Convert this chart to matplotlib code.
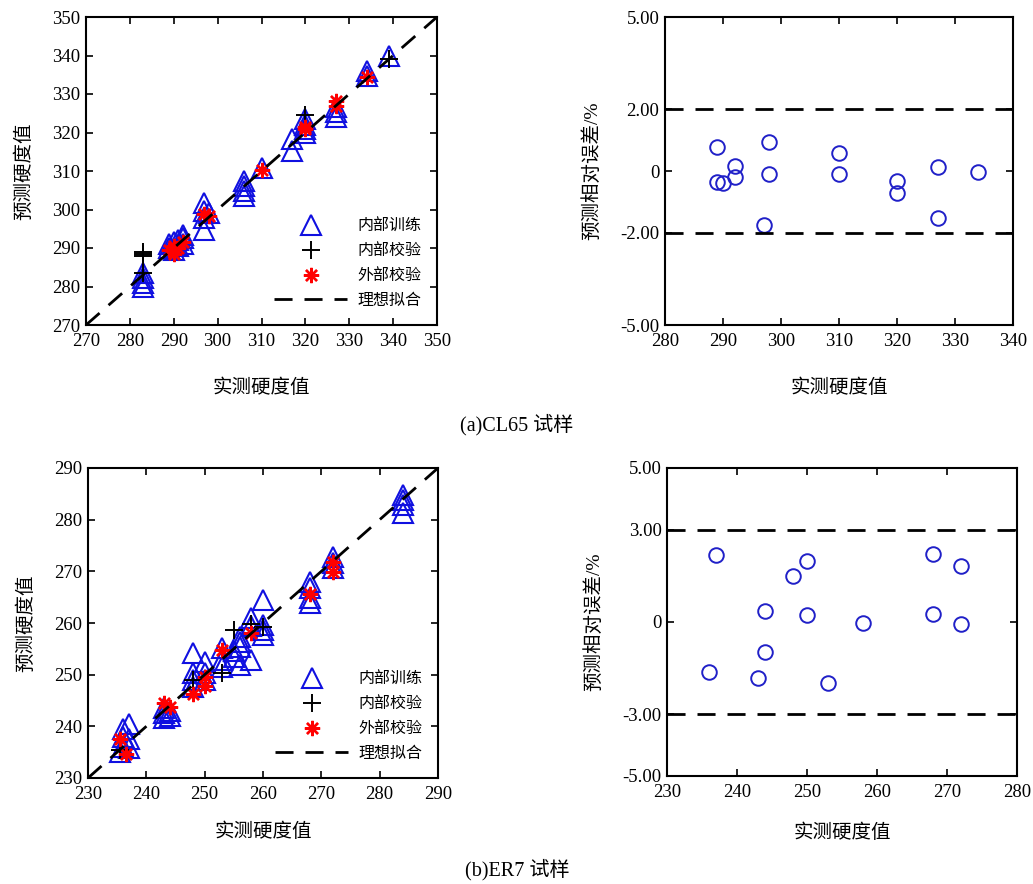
import matplotlib
matplotlib.use('Agg')
import matplotlib.pyplot as plt
import numpy as np

plt.rcParams['font.family'] = ['Liberation Serif', 'Noto Sans CJK SC']
plt.rcParams['axes.unicode_minus'] = False

# ---- (a) CL65 ----
tri_a_x = [283, 283, 283, 283, 289, 289, 290, 290, 291, 291, 292, 292, 292,
           297, 297, 297, 297, 298, 306, 306, 306, 306, 310, 317, 317,
           320, 320, 320, 320, 327, 327, 327, 334, 334, 339]
tri_a_y = [283.5, 282.2, 280.9, 280.0, 290.0, 291.0, 289.5, 291.5, 290.5, 292.0, 291.0, 292.5, 293.5,
           301.7, 299.5, 297.8, 294.8, 299.0, 307.3, 306.0, 304.7, 303.4, 310.8, 318.2, 315.2,
           323.5, 322.0, 321.0, 320.0, 326.5, 325.2, 323.9, 336.0, 334.7, 339.9]
plus_a_x = [283, 283, 283, 283, 320, 339]
plus_a_y = [288.0, 288.5, 289.0, 283.5, 324.5, 339.2]
star_a_x = [289, 290, 290, 291, 292, 297, 298, 310, 320, 320, 327, 327, 334]
star_a_y = [289.5, 290.5, 288.5, 290.0, 291.5, 298.8, 298.3, 310.2, 320.8, 321.5, 328.3, 327.0, 334.5]

err_a_x = [289, 289, 290, 292, 292, 297, 298, 298, 310, 310, 320, 320, 327, 327, 334]
err_a_y = [0.77, -0.35, -0.40, 0.17, -0.21, -1.76, 0.94, -0.11, 0.60, -0.11,
           -0.32, -0.71, 0.12, -1.51, -0.02]

# ---- (b) ER7 ----
tri_b_x = [236, 237, 236, 237, 236, 235.5, 237, 243, 243, 243, 244, 244,
           248, 248, 248, 248, 250, 250, 250, 253, 253, 253, 255, 255,
           256, 256, 256, 256, 258, 258, 258, 260, 260, 260, 260,
           268, 268, 268, 268, 272, 272, 272, 284, 284, 284, 284]
tri_b_y = [239.5, 240.4, 238.0, 237.5, 236.0, 235.0, 235.8, 243.5, 242.5, 241.6, 243.0, 242.0,
           254.1, 250.3, 249.0, 247.6, 252.5, 250.3, 249.0, 255.1, 252.8, 251.5, 253.5, 254.5,
           257.3, 256.3, 255.4, 251.9, 252.8, 260.9, 259.5, 264.4, 259.6, 258.6, 257.7,
           268.0, 266.7, 264.8, 263.8, 272.8, 271.6, 270.6, 284.8, 283.8, 282.8, 281.2]
plus_b_x = [235.5, 248, 253, 255, 258, 260]
plus_b_y = [235.5, 249.0, 250.3, 258.7, 259.9, 259.3]
star_b_x = [235.5, 236.5, 243, 244, 248, 250, 250, 253, 258, 268, 272, 272]
star_b_y = [237.5, 234.6, 244.5, 243.8, 246.3, 249.6, 247.8, 254.8, 258.0, 265.7, 271.9, 269.9]

err_b_x = [237, 236, 244, 244, 243, 248, 250, 250, 253, 258, 268, 268, 272, 272]
err_b_y = [2.18, -1.62, 0.37, -0.98, -1.82, 1.49, 1.98, 0.24, -1.97, -0.02,
           2.20, 0.27, 1.82, -0.08]

labels = ['内部训练', '内部校验', '外部校验', '理想拟合']
dash = (0, (6.5, 4.3))
blue = '#1010e0'
circ = '#2020c8'


def style_axes(ax):
    ax.tick_params(direction='in', top=True, right=True, length=5, width=1.2,
                   labelsize=13.5)
    ax.tick_params(axis='x', pad=6)
    ax.tick_params(axis='y', pad=4)
    for s in ax.spines.values():
        s.set_linewidth(1.5)


def fit_panel(ax, lo, hi, tx, ty, px, py, sx, sy, xpad):
    ax.plot(tx, ty, '^', ms=14, mfc='none', mec=blue, mew=1.5, ls='none', label=labels[0])
    ax.plot(px, py, '+', ms=13, color='black', mew=1.4, ls='none', label=labels[1])
    ax.plot(sx, sy, marker=(8, 2, 0), ms=11, color='red', mec='red', mew=1.7, ls='none', label=labels[2])
    ax.plot([lo, hi], [lo, hi], color='black', lw=2, ls=dash, label=labels[3])
    ax.set_xlim(lo, hi)
    ax.set_ylim(lo, hi)
    ax.set_xticks(np.arange(lo, hi + 1, 10))
    ax.set_yticks(np.arange(lo, hi + 1, 10))
    ax.set_xlabel('实测硬度值', fontsize=14, labelpad=xpad)
    ax.set_ylabel('预测硬度值', fontsize=14, labelpad=14)
    style_axes(ax)
    ax.legend(loc='lower right', frameon=False, fontsize=11.5, handlelength=4.6,
              labelspacing=0.55, handletextpad=0.6, borderaxespad=0.6)


def err_panel(ax, ex, ey, lo, hi, band, step, xpad):
    ax.plot(ex, ey, 'o', ms=10.5, mfc='none', mec=circ, mew=1.4, ls='none')
    ax.axhline(band, color='black', lw=2, ls=dash)
    ax.axhline(-band, color='black', lw=2, ls=dash)
    ax.set_xlim(lo, hi)
    ax.set_ylim(-5, 5)
    ax.set_xticks(np.arange(lo, hi + 1, step))
    ax.set_yticks([-5, -band, 0, band, 5])
    ax.set_yticklabels(['-5.00', '-%.2f' % band, '0', '%.2f' % band, '5.00'])
    ax.set_xlabel('实测硬度值', fontsize=14, labelpad=xpad)
    ax.set_ylabel('预测相对误差/%', fontsize=14, labelpad=14)
    style_axes(ax)


fig = plt.figure(figsize=(10.33, 8.84), dpi=100)
W, H = 1033, 884


def add(x0, y0, x1, y1):
    return fig.add_axes([x0 / W, 1 - y1 / H, (x1 - x0) / W, (y1 - y0) / H])


ax1 = add(86, 17, 437, 325)
ax2 = add(665, 17, 1013, 325)
ax3 = add(88, 468, 438, 778)
ax4 = add(667, 468, 1017, 776)

fit_panel(ax1, 270, 350, tri_a_x, tri_a_y, plus_a_x, plus_a_y, star_a_x, star_a_y, 20)
err_panel(ax2, err_a_x, err_a_y, 280, 340, 2.0, 10, 20)
fit_panel(ax3, 230, 290, tri_b_x, tri_b_y, plus_b_x, plus_b_y, star_b_x, star_b_y, 14)
err_panel(ax4, err_b_x, err_b_y, 230, 280, 3.0, 10, 16)

fig.text(517 / W, 1 - 425 / H, '(a)CL65 试样', ha='center', va='center', fontsize=14.5)
fig.text(517 / W, 1 - 870 / H, '(b)ER7 试样', ha='center', va='center', fontsize=14.5)

fig.savefig('out.png', dpi=100)
